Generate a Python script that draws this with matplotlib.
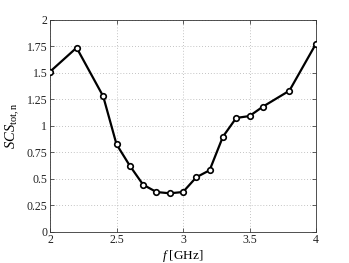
import matplotlib
matplotlib.use("Agg")
import matplotlib.pyplot as plt

# frequency [GHz] and normalised total SCS
freq = [2.0, 2.2, 2.4, 2.5, 2.6, 2.7, 2.8, 2.9, 3.0, 3.1, 3.2, 3.3, 3.4, 3.5, 3.6, 3.8, 4.0]
scs = [1.508, 1.734, 1.276, 0.824, 0.622, 0.443, 0.374, 0.362, 0.374, 0.513, 0.579,
       0.895, 1.072, 1.090, 1.178, 1.329, 1.772]

x_ticks = [2, 2.5, 3, 3.5, 4]
x_tick_labels = ["2", "2.5", "3", "3.5", "4"]
y_ticks = [0, 0.25, 0.5, 0.75, 1, 1.25, 1.5, 1.75, 2]
y_tick_labels = ["0", "0.25", "0.5", "0.75", "1", "1.25", "1.5", "1.75", "2"]

plt.rcParams["font.family"] = ["Liberation Serif", "DejaVu Serif"]
plt.rcParams["mathtext.fontset"] = "custom"
plt.rcParams["mathtext.rm"] = "Liberation Serif"
plt.rcParams["mathtext.it"] = "Liberation Serif:italic"

fig = plt.figure(figsize=(3.49, 2.63), dpi=100)
ax = fig.add_axes([50 / 349, 1 - 231.7 / 263, 266 / 349, 212.2 / 263])

ax.plot(freq, scs, color="black", linewidth=1.6, marker="o", markersize=4,
        markerfacecolor="white", markeredgecolor="black", markeredgewidth=1.2,
        zorder=3)

ax.set_xlim(2, 4)
ax.set_ylim(0, 2)
ax.set_xticks(x_ticks)
ax.set_xticklabels(x_tick_labels)
ax.set_yticks(y_ticks)
ax.set_yticklabels(y_tick_labels)
ax.grid(True, linestyle=(0, (1, 2.5)), color="#b0b0b0", linewidth=0.6)
ax.tick_params(direction="in", top=True, right=True, length=3, width=0.5,
               labelsize=8.5, pad=2, colors="#222222")
for sp in ax.spines.values():
    sp.set_linewidth(0.6)
    sp.set_color("#333333")

ax.set_xlabel(r"$f$ [GHz]", fontsize=9.5, labelpad=1)
ax.set_ylabel(r"$SCS_{\mathrm{tot,n}}$", fontsize=10.5, labelpad=3)

fig.savefig("out.png", dpi=100)
